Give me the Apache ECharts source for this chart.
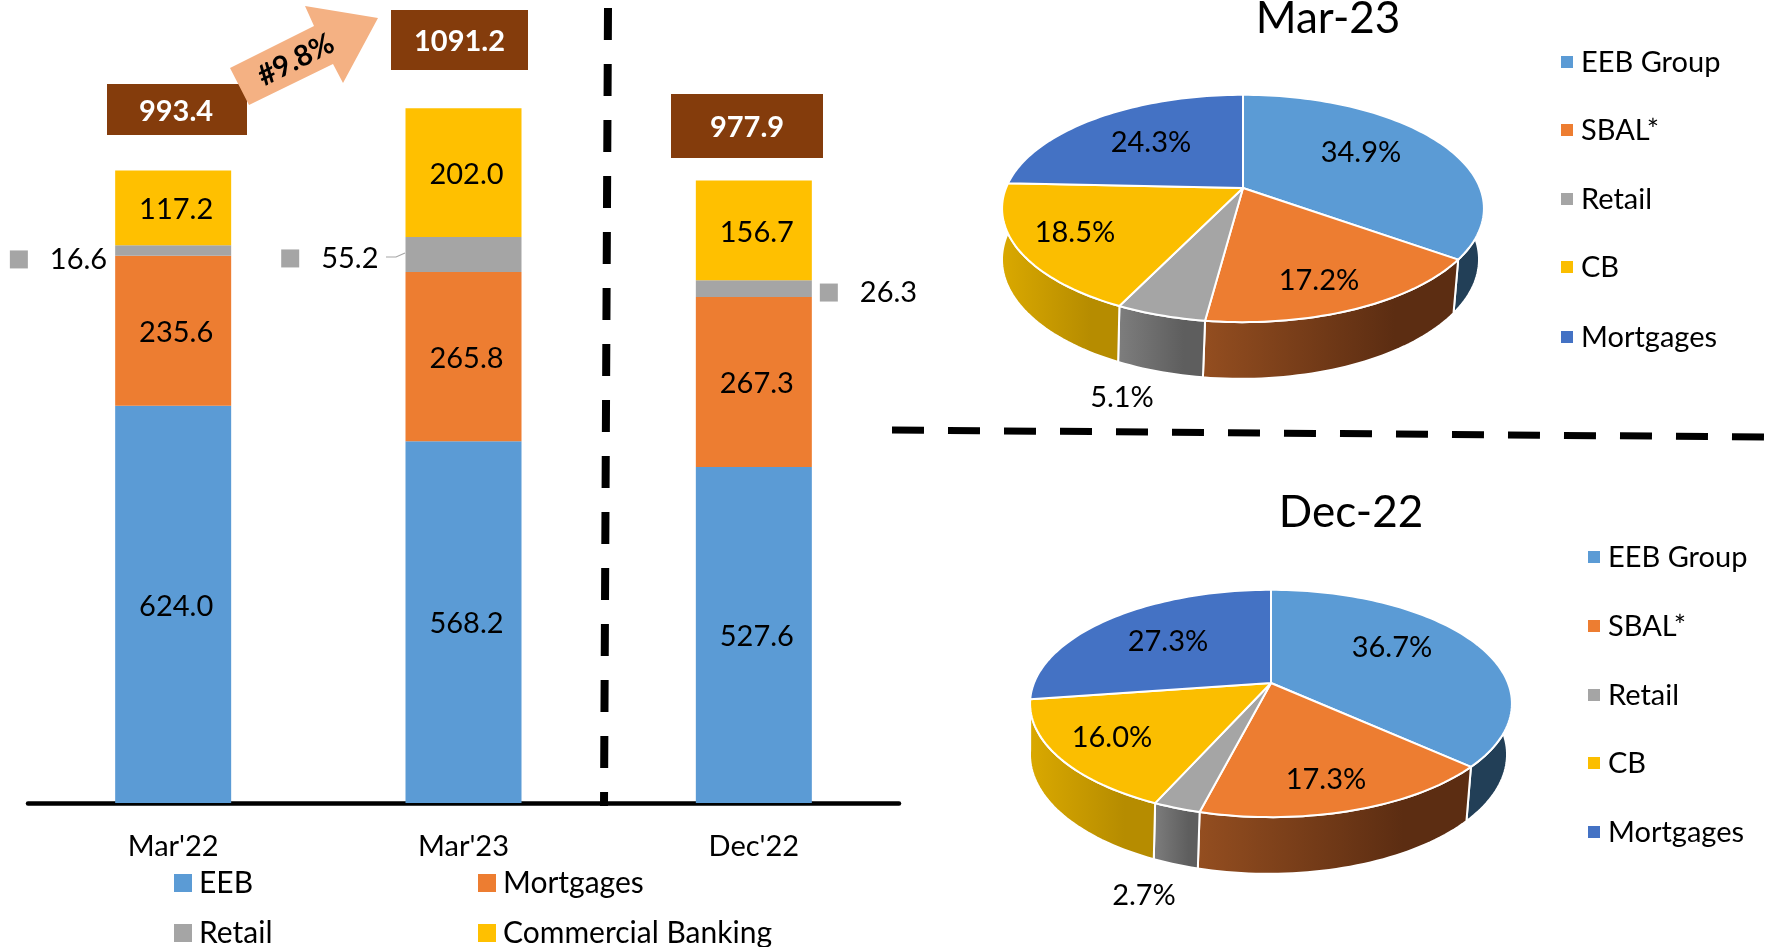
<!DOCTYPE html>
<html>
<head>
<meta charset="utf-8">
<style>html,body{margin:0;padding:0;background:#fff}#c{width:1765px;height:947px}</style>
<script src="https://cdn.jsdelivr.net/npm/echarts@6/dist/echarts.min.js"></script>
</head>
<body>
<div id="c"></div>
<script>
// ---- data ----
const periods = ["Mar'22", "Mar'23", "Dec'22"];
const eeb = [624.0, 568.2, 527.6];
const mortgages = [235.6, 265.8, 267.3];
const retail = [16.6, 55.2, 26.3];
const commercial = [117.2, 202.0, 156.7];
const totals = [993.4, 1091.2, 977.9];
const growthLabel = '#9.8%';
const pieSegments = ['EEB Group', 'SBAL*', 'Retail', 'CB', 'Mortgages'];
const pieMar23 = [34.9, 17.2, 5.1, 18.5, 24.3];
const pieDec22 = [36.7, 17.3, 2.7, 16.0, 27.3];

// ---- style and layout ----
const FONT = 'Lato';
const FS = 29;
const BLUE = '#5B9BD5', ORANGE = '#ED7D31', GREY = '#A5A5A5', YELLOW = '#FFC000', NAVY = '#4472C4', BROWN = '#843C0C';
const topColors = [BLUE, ORANGE, GREY, '#FBBE00', NAVY];
const sideColors = [['#223F57', '#223F57'], ['#944E20', '#5C2D12'], ['#7E7E7E', '#5E5E5E'], ['#DAA900', '#B68C00'], null];
const boxes = [[107, 84, 140, 51], [391, 10, 137, 60], [671, 94, 152, 64]];
const pieLayouts = [
  {name: 'Mar-23', values: pieMar23, cx: 1243, cy: 188, titleX: 1328, titleY: 19, legX: 1561, legY: [62, 130, 199, 267, 337],
   labels: [[1361, 153], [1319, 281], [1122, 398], [1075, 233], [1151, 143]]},
  {name: 'Dec-22', values: pieDec22, cx: 1271, cy: 683, titleX: 1351, titleY: 513, legX: 1588, legY: [557, 626, 695, 763, 832],
   labels: [[1392, 648], [1326, 780], [1144, 896], [1112, 738], [1168, 642]]}
];
// perspective projection of a pie disc
const A = 237, B = 110, K = -0.18, DEPTH = 50, SX = 0.99, SY = 1.05, SHIFT = -2.5;
function rimPoint(p, deg, bottom) {
  const t = deg * Math.PI / 180, u = Math.sin(t), v = -Math.cos(t), w = 1 + K * v;
  const x = A * u / w, y = B * v / w;
  return bottom ? [p.cx + SHIFT + x * SX, p.cy + DEPTH + y * SY] : [p.cx + x, p.cy + y];
}
function arc(p, a, b, bottom) {
  const pts = [], n = Math.max(2, Math.ceil(Math.abs(b - a) / 1.5));
  for (let i = 0; i <= n; i++) pts.push(rimPoint(p, a + (b - a) * i / n, bottom));
  return pts;
}
function pieRender(p) {
  return function (params, api) {
    const i = params.dataIndex;
    let sum = 0;
    for (let k = 0; k < i; k++) sum += p.values[k];
    const a = sum * 3.6, b = (sum + api.value(0)) * 3.6;
    const children = [];
    const sa = Math.max(a, 85), sb = Math.min(b, 275);
    if (sb > sa && sideColors[i]) {
      const top = arc(p, sa, sb, false), bot = arc(p, sb, sa, true);
      children.push({type: 'polygon', z2: 1, shape: {points: top.concat(bot)},
        style: {fill: new echarts.graphic.LinearGradient(0, 0, 1, 0, [{offset: 0, color: sideColors[i][0]}, {offset: 0.75, color: sideColors[i][1]}, {offset: 1, color: sideColors[i][1]}]),
          stroke: '#fff', lineWidth: 2}});
    }
    children.push({type: 'polygon', z2: 2, shape: {points: [[p.cx, p.cy]].concat(arc(p, a, b, false))},
      style: {fill: topColors[i], stroke: '#fff', lineWidth: 2, lineJoin: 'round'}});
    children.push({type: 'text', z2: 3, style: {x: p.labels[i][0], y: p.labels[i][1],
      text: api.value(0).toFixed(1) + '%', fill: '#000', fontFamily: FONT, fontSize: FS, align: 'center', verticalAlign: 'middle'}});
    return {type: 'group', children: children};
  };
}

// ---- overlay graphics ----
const graphics = [];
totals.forEach(function (t, i) {
  const r = boxes[i];
  graphics.push({type: 'rect', z: 10, shape: {x: r[0], y: r[1], width: r[2], height: r[3]}, style: {fill: BROWN}});
  graphics.push({type: 'text', z: 11, style: {x: r[0] + r[2] / 2 + (i === 0 ? -1 : 0), y: r[1] + r[3] / 2 + 2, text: t.toFixed(1), fill: '#fff',
    fontFamily: FONT, fontWeight: 'bold', fontSize: FS, align: 'center', verticalAlign: 'middle'}});
});
graphics.push({type: 'polygon', z: 12, shape: {points: [[230, 68], [249, 105], [333, 64], [343, 83], [378, 18], [305, 6], [314, 26]]}, style: {fill: '#F4B183'}});
graphics.push({type: 'text', z: 13, x: 296, y: 60, rotation: 27 * Math.PI / 180, style: {x: 0, y: 0, text: growthLabel, fill: '#000',
  fontFamily: FONT, fontWeight: 'bold', fontSize: FS, align: 'center', verticalAlign: 'middle'}});
// separators
graphics.push({type: 'line', z: 9, shape: {x1: 608, y1: 8, x2: 604, y2: 806}, style: {stroke: '#000', lineWidth: 8, lineDash: [32, 24]}});
graphics.push({type: 'line', z: 9, shape: {x1: 892, y1: 430, x2: 1765, y2: 437}, style: {stroke: '#000', lineWidth: 7, lineDash: [32, 24]}});
// leader line for the Mar'23 retail label
graphics.push({type: 'polyline', z: 9, shape: {points: [[386, 257], [396, 257], [405, 253]]}, style: {stroke: '#A6A6A6', lineWidth: 1.2, fill: 'none'}});
// pie titles and legends
pieLayouts.forEach(function (p) {
  graphics.push({type: 'text', z: 10, style: {x: p.titleX, y: p.titleY, text: p.name, fill: '#000', fontFamily: FONT, fontSize: 44, align: 'center', verticalAlign: 'middle'}});
  pieSegments.forEach(function (s, i) {
    graphics.push({type: 'rect', z: 10, shape: {x: p.legX, y: p.legY[i] - 6, width: 12, height: 12}, style: {fill: topColors[i]}});
    graphics.push({type: 'text', z: 10, style: {x: p.legX + 20, y: p.legY[i] + 1, text: s, fill: '#000', fontFamily: FONT, fontSize: FS, align: 'left', verticalAlign: 'middle'}});
  });
});

// ---- series ----
const valueLabel = {show: true, position: 'inside', offset: [3, 2], color: '#000', fontFamily: FONT, fontSize: FS, formatter: function (d) { return d.value.toFixed(1); }};
function stack(name, color, values, label) {
  return {name: name, type: 'bar', stack: 'total', barWidth: 116, itemStyle: {color: color}, label: label || valueLabel, data: values, silent: true};
}
const retailRich = {k: {width: 18, height: 18, backgroundColor: GREY}, v: {color: '#000', fontFamily: FONT, fontSize: FS, padding: [0, 0, 0, 22]}};
const retailLayout = [
  {position: 'left', distance: 8, offset: [0, 9]},
  {position: 'left', distance: 27, offset: [0, 4]},
  {position: 'right', distance: 8, offset: [0, 4]}
];
const retailData = retail.map(function (v, i) {
  return {value: v, label: Object.assign({show: true, formatter: '{k|}{v|' + v.toFixed(1) + '}', rich: retailRich}, retailLayout[i])};
});

const chart = echarts.init(document.getElementById('c'), null, {renderer: 'canvas'});
chart.setOption({
  animation: false,
  backgroundColor: '#fff',
  textStyle: {fontFamily: FONT},
  grid: {left: 28, width: 871, top: 39, height: 764},
  xAxis: {type: 'category', data: periods, axisTick: {show: false},
    axisLine: {show: true, lineStyle: {color: '#000', width: 4.5}},
    axisLabel: {color: '#000', fontFamily: FONT, fontSize: FS, margin: 29}},
  yAxis: {type: 'value', min: 0, max: 1200, show: false, splitLine: {show: false}},
  legend: [
    {orient: 'vertical', left: 174, top: 868, height: 140, padding: 0, itemGap: 20, itemWidth: 18, itemHeight: 18, selectedMode: false, icon: 'rect',
     data: ['EEB', 'Retail'], textStyle: {color: '#000', fontFamily: FONT, fontSize: 30, padding: [0, 0, 0, 2]}},
    {orient: 'vertical', left: 478, top: 868, height: 140, padding: 0, itemGap: 20, itemWidth: 18, itemHeight: 18, selectedMode: false, icon: 'rect',
     data: ['Mortgages', 'Commercial Banking'], textStyle: {color: '#000', fontFamily: FONT, fontSize: 30, padding: [0, 0, 0, 2]}}
  ],
  graphic: graphics,
  series: [
    stack('EEB', BLUE, eeb),
    stack('Mortgages', ORANGE, mortgages),
    stack('Retail', GREY, retailData, {show: true}),
    stack('Commercial Banking', YELLOW, commercial)
  ].concat(pieLayouts.map(function (p) {
    return {type: 'custom', name: p.name, coordinateSystem: 'none', silent: true, renderItem: pieRender(p), data: p.values, clip: false};
  }))
});
</script>
</body>
</html>
